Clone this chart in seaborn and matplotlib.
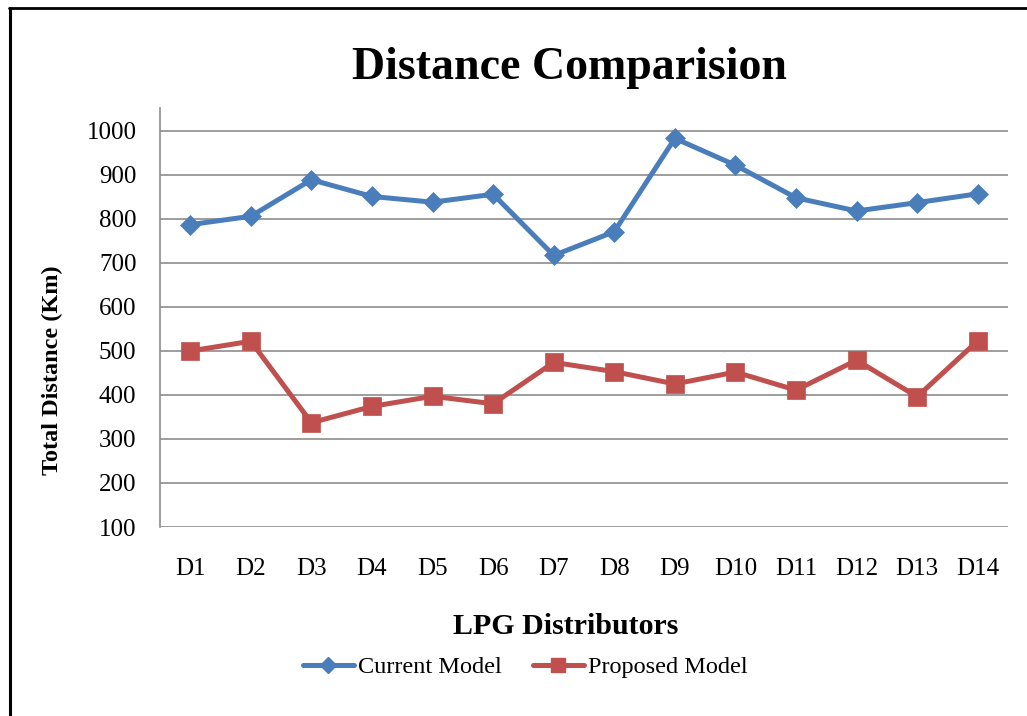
import matplotlib
matplotlib.use("Agg")
import matplotlib.pyplot as plt
from matplotlib.lines import Line2D
import seaborn as sns
import pandas as pd

distributors = ["D1", "D2", "D3", "D4", "D5", "D6", "D7",
                "D8", "D9", "D10", "D11", "D12", "D13", "D14"]
current_model = [787, 806, 889, 851, 838, 856, 717,
                 771, 983, 922, 848, 818, 837, 857]
proposed_model = [500, 522, 337, 374, 397, 380, 474,
                  453, 425, 452, 411, 479, 396, 523]
y_ticks = [100, 200, 300, 400, 500, 600, 700, 800, 900, 1000]

sns.set_theme(style="white")
plt.rcParams["font.family"] = ["Liberation Serif", "DejaVu Serif"]
plt.rcParams["text.color"] = "black"
plt.rcParams["axes.labelcolor"] = "black"

W, H = 1027, 716
fig = plt.figure(figsize=(W / 100, H / 100), dpi=100)
ax = fig.add_axes([160 / W, 1 - 527 / H, (1008 - 160) / W, (527 - 108) / H])

df = pd.DataFrame({
    "Distributor": distributors * 2,
    "Distance": current_model + proposed_model,
    "Model": ["Current Model"] * len(distributors) + ["Proposed Model"] * len(distributors),
})

styles = {
    "Current Model": dict(color="#4A7EBB", marker="D", ms=10.0),
    "Proposed Model": dict(color="#C0504D", marker="s", ms=12.5),
}

ax.set_axisbelow(True)
for y in y_ticks:
    ax.axhline(y, color="#8C8C8C", lw=1.2, zorder=0)

for name, st in styles.items():
    sub = df[df["Model"] == name]
    sns.lineplot(data=sub, x="Distributor", y="Distance", ax=ax, sort=False,
                 color=st["color"], lw=3.6, marker=st["marker"], ms=st["ms"],
                 mec=st["color"], mfc=st["color"], mew=0.5, label=name,
                 legend=False, zorder=3)

ax.set_xlim(-0.5, len(distributors) - 0.5)
ax.set_ylim(100, 1052)
ax.set_yticks(y_ticks)
ax.set_yticklabels([str(v) for v in y_ticks])
ax.set_xticks(range(len(distributors)))
ax.set_xticklabels(distributors)
ax.tick_params(axis="both", length=0, labelsize=18, colors="black")
ax.tick_params(axis="y", pad=17)
ax.tick_params(axis="x", pad=22)
ax.set_xlabel("")
ax.set_ylabel("")
ax.grid(False)

for side in ["top", "right", "bottom"]:
    ax.spines[side].set_visible(False)
ax.spines["left"].set_color("#8C8C8C")
ax.spines["left"].set_linewidth(1.2)

fig.text(569 / W, 1 - 68 / H, "Distance Comparision", ha="center", va="center",
         fontsize=33, fontweight="bold", color="black")
fig.text(566 / W, 1 - 627 / H, "LPG Distributors", ha="center", va="center",
         fontsize=21.5, fontweight="bold", color="black")
fig.text(52 / W, 1 - 370 / H, "Total Distance (Km)", ha="center", va="center",
         rotation=90, fontsize=17.5, fontweight="bold", color="black")

handles = [
    Line2D([], [], color=st["color"], lw=3.6, marker=st["marker"],
           ms=st["ms"] * 0.85, mec=st["color"], mfc=st["color"])
    for st in styles.values()
]
leg = fig.legend(handles, list(styles.keys()), loc="center",
                 bbox_to_anchor=(525 / W, 1 - 667 / H), ncol=2, frameon=False,
                 fontsize=17.5, handlelength=2.1, handletextpad=0.15,
                 columnspacing=1.3)
for t in leg.get_texts():
    t.set_color("black")

# outer frame strokes on the left and top edges
fig.add_artist(Line2D([9.5 / W, 9.5 / W], [0, 1 - 7.5 / H], color="black",
                      lw=2.2, transform=fig.transFigure))
fig.add_artist(Line2D([8.5 / W, 1], [1 - 7.5 / H, 1 - 7.5 / H], color="black",
                      lw=2.0, transform=fig.transFigure))

fig.savefig("out.png", dpi=100, facecolor="white")
